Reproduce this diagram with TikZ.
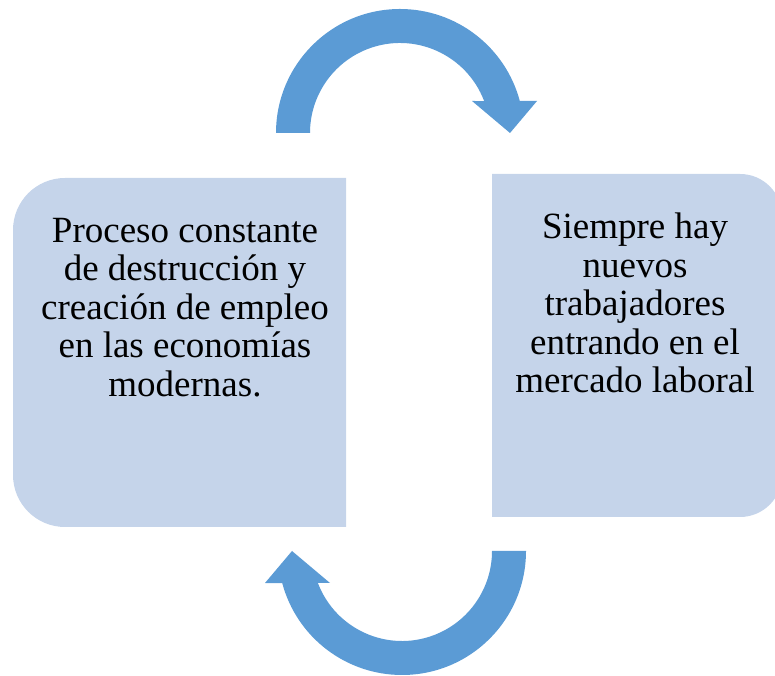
\documentclass[tikz,border=0pt]{standalone}
\usepackage{fontspec}
\setmainfont{Liberation Serif}
\definecolor{arrowblue}{RGB}{91,155,213}
\definecolor{boxblue}{RGB}{197,212,234}

\tikzset{
    cyclearrow/.pic={
        \fill[arrowblue]
        (180:124pt) arc[start angle=180, end angle=15, radius=124pt]
        -- (137pt,32pt) -- (110pt,0pt) -- (72pt,32pt)
        -- (20.8:90pt) arc[start angle=20.8, end angle=180, radius=90pt]
        -- cycle;
    }
}

\begin{document}
\begin{tikzpicture}[x=1pt, y=1pt,
    boxtext/.style={align=center, inner sep=0pt, anchor=north,
        font=\fontsize{37}{38.5}\selectfont}]
    \useasboundingbox (0,0) rectangle (775,676);

    % Left box (rounded on the left side)
    \fill[boxblue]
    (346,498) -- (65,498) arc[start angle=90, end angle=180, radius=52pt]
    -- (13,201) arc[start angle=180, end angle=270, radius=52pt]
    -- (346,149) -- cycle;

    % Right box (rounded on the right side)
    \fill[boxblue]
    (492,502) -- (740,502) arc[start angle=90, end angle=0, radius=42pt]
    -- (782,201) arc[start angle=0, end angle=-90, radius=42pt]
    -- (492,159) -- cycle;

    % Texts
    \node[boxtext] (proceso) at (185,458)
    {Proceso constante\\de destrucción y\\creación de empleo\\en las economías\\modernas.};
    \node[boxtext] (siempre) at (635,463)
    {Siempre hay\\nuevos\\trabajadores\\entrando en el\\mercado laboral};

    % Circular arrows
    \pic (toparrow) at (400,543) {cyclearrow};
    \pic[rotate=180] (bottomarrow) at (402,125) {cyclearrow};
\end{tikzpicture}
\end{document}
